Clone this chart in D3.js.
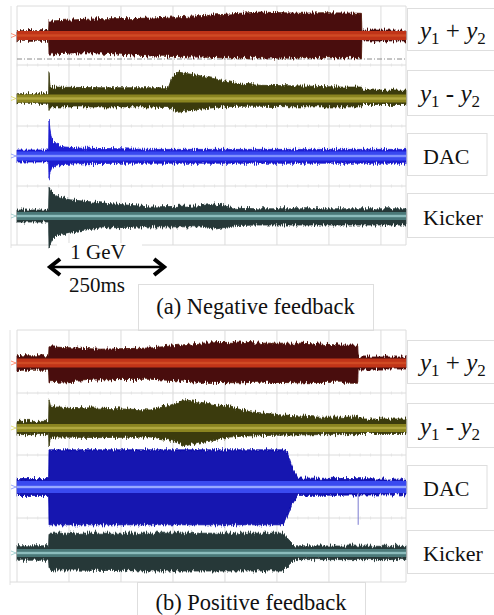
<!DOCTYPE html>
<html>
<head>
<meta charset="utf-8">
<script src="https://cdn.jsdelivr.net/npm/d3@7"></script>
<style>
  body { margin: 0; background: #fff; }
  svg { display: block; }
</style>
</head>
<body>
<div id="chart"></div>
<script>
// time axis in ms, 250 ms bar starts at injection
const timeDomain = [0, 838]
const gridTimes = [0, 112, 224, 336, 448, 560, 672, 784]
const injectionMs = 69
const barMs = 250
const energyLabel = "1 GeV"
const barLabel = "250ms"
const captions = ["(a) Negative feedback", "(b) Positive feedback"]
const traceNames = ["y1+y2", "y1-y2", "DAC", "Kicker"]

// envelopes: t (ms), hi / lo = half height above / below centre (divisions)
const negSum = [
    [0, 0.08, 0.08], [68, 0.08, 0.08], [69, 0.24, 0.31], [120, 0.26, 0.29], [179, 0.28, 0.29],
    [240, 0.28, 0.32], [287, 0.29, 0.34], [340, 0.31, 0.35], [394, 0.33, 0.36], [440, 0.35, 0.37],
    [480, 0.37, 0.37], [524, 0.39, 0.37], [570, 0.38, 0.38], [610, 0.37, 0.37], [660, 0.38, 0.37],
    [742, 0.37, 0.37], [743, 0.09, 0.09], [838, 0.09, 0.09]
]
const negDiff = [
    [0, 0.08, 0.08], [68, 0.08, 0.08], [69, 0.45, 0.2], [71, 0.19, 0.14], [179, 0.18, 0.14],
    [287, 0.18, 0.14], [326, 0.18, 0.15], [334, 0.35, 0.18], [347, 0.44, 0.23], [362, 0.42, 0.21],
    [394, 0.38, 0.18], [437, 0.31, 0.14], [480, 0.24, 0.13], [524, 0.22, 0.13], [610, 0.21, 0.14],
    [696, 0.19, 0.14], [742, 0.19, 0.14], [743, 0.14, 0.1], [838, 0.14, 0.1]
]
const negDac = [
    [0, 0.1, 0.1], [68, 0.1, 0.1], [69, 0.6, 0.37], [71, 0.45, 0.27], [75, 0.27, 0.2],
    [86, 0.18, 0.15], [103, 0.15, 0.14], [136, 0.13, 0.13], [222, 0.12, 0.12], [287, 0.11, 0.12],
    [838, 0.11, 0.12]
]
const negKick = [
    [0, 0.1, 0.1], [68, 0.1, 0.1], [69, 0.48, 0.52], [75, 0.4, 0.4], [86, 0.33, 0.32],
    [114, 0.27, 0.27], [179, 0.22, 0.2], [287, 0.15, 0.18], [394, 0.17, 0.18], [426, 0.2, 0.22],
    [470, 0.13, 0.16], [520, 0.12, 0.15], [838, 0.12, 0.15]
]
const posSum = [
    [0, 0.12, 0.12], [68, 0.12, 0.12], [69, 0.27, 0.33], [179, 0.23, 0.28], [287, 0.25, 0.27],
    [394, 0.33, 0.32], [480, 0.35, 0.33], [524, 0.33, 0.32], [610, 0.33, 0.33], [696, 0.3, 0.32],
    [734, 0.3, 0.32], [735, 0.1, 0.1], [838, 0.1, 0.1]
]
const posDiff = [
    [0, 0.11, 0.11], [68, 0.11, 0.11], [69, 0.47, 0.3], [72, 0.37, 0.16], [82, 0.35, 0.15],
    [179, 0.33, 0.16], [287, 0.3, 0.15], [330, 0.38, 0.2], [362, 0.47, 0.3], [394, 0.43, 0.23],
    [459, 0.35, 0.15], [502, 0.27, 0.13], [566, 0.22, 0.12], [653, 0.18, 0.11], [734, 0.18, 0.11],
    [735, 0.15, 0.09], [838, 0.15, 0.09]
]
const posDac = [
    [0, 0.14, 0.14], [68, 0.14, 0.14], [69, 0.62, 0.63], [573, 0.62, 0.63], [582, 0.6, 0.5],
    [592, 0.35, 0.3], [605, 0.15, 0.14], [838, 0.13, 0.13]
]
// thin glitch on the DAC trace (b): time, depth below centre
const posDacGlitch = [735, 0.63]
const posKick = [
    [0, 0.12, 0.12], [68, 0.12, 0.12], [69, 0.33, 0.28], [300, 0.33, 0.3], [573, 0.33, 0.3],
    [588, 0.2, 0.18], [598, 0.12, 0.11], [838, 0.11, 0.11]
]

// layout
const width = 494, height = 615
const plotLeft = 17, plotRight = 406
const divPx = 60
const fontSerif = '"Liberation Serif", "Times New Roman", serif'

const styles = [
    { halo: "#4a0e08", core: "#c03418", line: "#d04a24", coreHalf: 4.5 },
    { halo: "#3a3a0c", core: "#8a8420", line: "#b0a840", coreHalf: 4 },
    { halo: "#1a1ad0", core: "#3848f0", line: "#8090ff", coreHalf: 4.5 },
    { halo: "#263838", core: "#4a7878", line: "#8cbcbc", coreHalf: 4 }
]

const panels = [
    {
        top: 6, bottom: 245, frameX: 11, frameBottom: 248,
        rows: [6, 65, 126, 186, 245],
        centers: [35.5, 98.5, 156, 216],
        traces: [negSum, negDiff, negDac, negKick],
        boxes: [[8, 50], [70, 115], [133, 175], [193, 237]],
        dashY: 59,
        caption: { x0: 138, x1: 373, y0: 284, y1: 330, base: 314 }
    },
    {
        top: 330, bottom: 582, frameX: 10, frameBottom: 585,
        rows: [330, 393, 455, 518, 582],
        centers: [363, 428, 487, 553],
        traces: [posSum, posDiff, posDac, posKick],
        boxes: [[340, 383], [403, 447], [465, 508], [530, 573]],
        dashY: null,
        caption: { x0: 137, x1: 365, y0: 582, y1: 620, base: 610 }
    }
]
// DAC panel b is a darker, solid block
const posDacStyle = { halo: "#1212b0", core: "#3a4af0", line: "#98a8ff", coreHalf: 6 }

const svg = d3.select("#chart").append("svg")
    .attr("width", width)
    .attr("height", height)

svg.append("rect").attr("width", width).attr("height", height).attr("fill", "#fff")

// grainy edge for the scope traces (vertical displacement only)
const defs = svg.append("defs")
const filt = defs.append("filter").attr("id", "grain")
    .attr("x", "-2%").attr("y", "-20%").attr("width", "104%").attr("height", "140%")
filt.append("feTurbulence")
    .attr("type", "fractalNoise")
    .attr("baseFrequency", "0.9 0.08")
    .attr("numOctaves", 1)
    .attr("seed", 4)
    .attr("result", "noise")
filt.append("feColorMatrix")
    .attr("in", "noise")
    .attr("type", "matrix")
    .attr("values", "0 0 0 0 0.5  0 1 0 0 0  0 0 1 0 0  0 0 0 0 1")
    .attr("result", "vnoise")
filt.append("feDisplacementMap")
    .attr("in", "SourceGraphic")
    .attr("in2", "vnoise")
    .attr("scale", 9)
    .attr("xChannelSelector", "R")
    .attr("yChannelSelector", "G")

const x = d3.scaleLinear().domain(timeDomain).range([plotLeft, plotRight])

panels.forEach((p, pi) => {
    const g = svg.append("g")

    // frame + grid
    g.append("line")
        .attr("x1", p.frameX).attr("x2", p.frameX)
        .attr("y1", p.top).attr("y2", p.frameBottom)
        .attr("stroke", "#e2e2e2")
    g.selectAll(".vgrid").data(gridTimes.concat([timeDomain[1]])).join("line")
        .attr("x1", d => x(d)).attr("x2", d => x(d))
        .attr("y1", p.top).attr("y2", p.bottom)
        .attr("stroke", "#dcdcdc")
    g.selectAll(".hgrid").data(p.rows).join("line")
        .attr("x1", (d, i) => i == p.rows.length - 1 ? p.frameX : plotLeft)
        .attr("x2", plotRight)
        .attr("y1", d => d).attr("y2", d => d)
        .attr("stroke", "#dcdcdc")

    // minor ticks along the grid
    p.rows.slice(1, -1).forEach(ry => {
        g.selectAll(null).data(d3.range(plotLeft, plotRight, 10.4)).join("line")
            .attr("x1", d => d).attr("x2", d => d)
            .attr("y1", ry - 1.5).attr("y2", ry + 1.5)
            .attr("stroke", "#e4e4e4")
    })

    if (p.dashY) {
        g.append("line")
            .attr("x1", plotLeft).attr("x2", plotRight)
            .attr("y1", p.dashY).attr("y2", p.dashY)
            .attr("stroke", "#8a8a8a")
            .attr("stroke-width", 1)
            .attr("stroke-dasharray", "5,2,1,2")
    }

    p.traces.forEach((tr, ti) => {
        const yc = p.centers[ti]
        const st = (pi == 1 && ti == 2) ? posDacStyle : styles[ti]
        const rows = tr.map(d => ({ t: d[0], hi: d[1], lo: d[2] }))

        const halo = d3.area()
            .x(d => x(d.t))
            .y0(d => yc + d.lo * divPx)
            .y1(d => yc - d.hi * divPx)

        g.append("path")
            .attr("d", halo(rows))
            .attr("fill", st.halo)
            .attr("stroke", st.halo)
            .attr("stroke-width", 0.8)
            .attr("filter", "url(#grain)")

        if (pi == 1 && ti == 2) {
            g.append("line")
                .attr("x1", x(posDacGlitch[0])).attr("x2", x(posDacGlitch[0]))
                .attr("y1", yc).attr("y2", yc + posDacGlitch[1] * divPx)
                .attr("stroke", "#7a7ad0")
                .attr("stroke-width", 1)
        }

        // bright trace core
        g.append("rect")
            .attr("x", x(timeDomain[0])).attr("width", x(timeDomain[1]) - x(timeDomain[0]))
            .attr("y", yc - st.coreHalf).attr("height", st.coreHalf * 2)
            .attr("fill", st.core)
        g.append("rect")
            .attr("x", x(timeDomain[0])).attr("width", x(timeDomain[1]) - x(timeDomain[0]))
            .attr("y", yc - 1.2).attr("height", 2.4)
            .attr("fill", st.line)

        // ground marker at left
        g.append("path")
            .attr("d", `M${plotLeft - 6} ${yc - 2} L${plotLeft - 1} ${yc} L${plotLeft - 6} ${yc + 2}`)
            .attr("fill", "none")
            .attr("stroke", d3.color(st.core).brighter(1.2))
            .attr("opacity", 0.6)
    })

    // label boxes
    p.boxes.forEach((b, i) => {
        const boxRight = i == 2 ? 487 : width + 2
        g.append("rect")
            .attr("x", 407.5).attr("y", b[0] + 0.5)
            .attr("width", boxRight - 407.5).attr("height", b[1] - b[0])
            .attr("fill", "#fff")
            .attr("stroke", "#dedede")
        const base = (b[0] + b[1]) / 2 + 9.5
        const t = g.append("text")
            .attr("y", base)
            .attr("font-family", fontSerif)
            .attr("fill", "#111")
        if (i < 2) {
            t.attr("x", 420).attr("font-size", 25)
            t.append("tspan").attr("font-style", "italic").text("y")
            t.append("tspan").attr("font-size", 17).attr("dy", 5).text("1")
            t.append("tspan").attr("dy", -5).text(i == 0 ? " + " : " - ")
            t.append("tspan").attr("font-style", "italic").text("y")
            t.append("tspan").attr("font-size", 17).attr("dy", 5).text("2")
        } else {
            t.attr("x", 423).attr("font-size", 22).text(traceNames[i])
        }
    })

    // caption
    const c = p.caption
    g.append("rect")
        .attr("x", c.x0 + 0.5).attr("y", c.y0 + 0.5)
        .attr("width", c.x1 - c.x0).attr("height", c.y1 - c.y0)
        .attr("fill", "#fff")
        .attr("stroke", "#dedede")
    g.append("text")
        .attr("x", (c.x0 + c.x1) / 2)
        .attr("y", c.base)
        .attr("text-anchor", "middle")
        .attr("font-family", fontSerif)
        .attr("font-size", 22.5)
        .attr("fill", "#111")
        .text(captions[pi])
})

// time bar under panel a
const xa = x(injectionMs), xb = x(injectionMs + barMs), ay = 267
svg.append("rect")
    .attr("x", 57).attr("y", 243).attr("width", 85).attr("height", 20)
    .attr("fill", "#fff")
svg.append("line")
    .attr("x1", xa + 2).attr("x2", xb - 2)
    .attr("y1", ay).attr("y2", ay)
    .attr("stroke", "#000").attr("stroke-width", 2.5)
svg.append("path")
    .attr("d", `M${xa + 11} ${ay - 8} L${xa + 1} ${ay} L${xa + 11} ${ay + 8}` +
        `M${xb - 11} ${ay - 8} L${xb - 1} ${ay} L${xb - 11} ${ay + 8}`)
    .attr("fill", "none")
    .attr("stroke", "#000")
    .attr("stroke-width", 4)
svg.append("text")
    .attr("x", 98).attr("y", 259)
    .attr("text-anchor", "middle")
    .attr("font-family", fontSerif).attr("font-size", 21)
    .attr("fill", "#111")
    .text(energyLabel)
svg.append("text")
    .attr("x", 97).attr("y", 292)
    .attr("text-anchor", "middle")
    .attr("font-family", fontSerif).attr("font-size", 21)
    .attr("fill", "#111")
    .text(barLabel)
</script>
</body>
</html>
